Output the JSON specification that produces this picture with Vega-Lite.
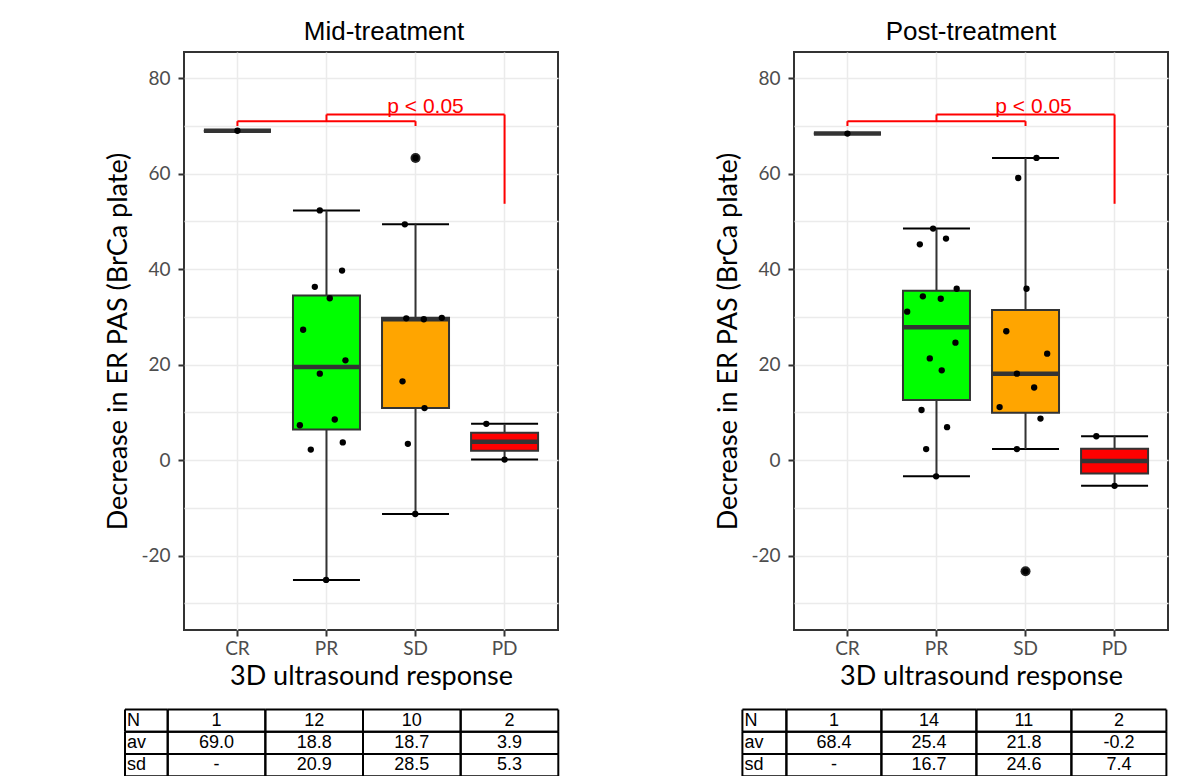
{
  "$schema": "https://vega.github.io/schema/vega-lite/v6.json",
  "background": "white",
  "padding": {"left": 103, "top": 18, "right": 0, "bottom": 0},
  "spacing": 152,
  "datasets": {
    "pts": [
      {"ph": "Mid", "resp": "CR", "v": 69.0, "jit": 0},
      {"ph": "Mid", "resp": "PR", "v": 52.3, "jit": -0.075},
      {"ph": "Mid", "resp": "PR", "v": 39.7, "jit": 0.175},
      {"ph": "Mid", "resp": "PR", "v": 36.3, "jit": -0.131},
      {"ph": "Mid", "resp": "PR", "v": 33.9, "jit": 0.037},
      {"ph": "Mid", "resp": "PR", "v": 27.3, "jit": -0.262},
      {"ph": "Mid", "resp": "PR", "v": 20.9, "jit": 0.213},
      {"ph": "Mid", "resp": "PR", "v": 18.1, "jit": -0.075},
      {"ph": "Mid", "resp": "PR", "v": 8.5, "jit": 0.093},
      {"ph": "Mid", "resp": "PR", "v": 7.3, "jit": -0.299},
      {"ph": "Mid", "resp": "PR", "v": 3.7, "jit": 0.183},
      {"ph": "Mid", "resp": "PR", "v": 2.2, "jit": -0.176},
      {"ph": "Mid", "resp": "PR", "v": -25.1, "jit": -0.004},
      {"ph": "Mid", "resp": "SD", "v": 63.3, "jit": 0},
      {"ph": "Mid", "resp": "SD", "v": 49.4, "jit": -0.12},
      {"ph": "Mid", "resp": "SD", "v": 29.8, "jit": 0.295},
      {"ph": "Mid", "resp": "SD", "v": 29.7, "jit": -0.104},
      {"ph": "Mid", "resp": "SD", "v": 29.5, "jit": 0.093},
      {"ph": "Mid", "resp": "SD", "v": 16.5, "jit": -0.146},
      {"ph": "Mid", "resp": "SD", "v": 10.9, "jit": 0.101},
      {"ph": "Mid", "resp": "SD", "v": 3.4, "jit": -0.086},
      {"ph": "Mid", "resp": "SD", "v": -11.3, "jit": -0.003},
      {"ph": "Mid", "resp": "PD", "v": 7.6, "jit": -0.205},
      {"ph": "Mid", "resp": "PD", "v": 0.1, "jit": 0},
      {"ph": "Post", "resp": "CR", "v": 68.4, "jit": 0},
      {"ph": "Post", "resp": "PR", "v": 48.5, "jit": -0.038},
      {"ph": "Post", "resp": "PR", "v": 45.2, "jit": -0.187},
      {"ph": "Post", "resp": "PR", "v": 46.4, "jit": 0.107},
      {"ph": "Post", "resp": "PR", "v": 35.9, "jit": 0.227},
      {"ph": "Post", "resp": "PR", "v": 34.3, "jit": -0.153},
      {"ph": "Post", "resp": "PR", "v": 33.8, "jit": 0.048},
      {"ph": "Post", "resp": "PR", "v": 31.1, "jit": -0.329},
      {"ph": "Post", "resp": "PR", "v": 24.6, "jit": 0.213},
      {"ph": "Post", "resp": "PR", "v": 21.3, "jit": -0.075},
      {"ph": "Post", "resp": "PR", "v": 18.8, "jit": 0.059},
      {"ph": "Post", "resp": "PR", "v": 10.5, "jit": -0.168},
      {"ph": "Post", "resp": "PR", "v": 6.9, "jit": 0.119},
      {"ph": "Post", "resp": "PR", "v": 2.3, "jit": -0.116},
      {"ph": "Post", "resp": "PR", "v": -3.4, "jit": -0.004},
      {"ph": "Post", "resp": "SD", "v": 63.3, "jit": 0.123},
      {"ph": "Post", "resp": "SD", "v": 59.1, "jit": -0.082},
      {"ph": "Post", "resp": "SD", "v": 35.9, "jit": 0.011},
      {"ph": "Post", "resp": "SD", "v": 27.0, "jit": -0.216},
      {"ph": "Post", "resp": "SD", "v": 22.3, "jit": 0.243},
      {"ph": "Post", "resp": "SD", "v": 18.1, "jit": -0.097},
      {"ph": "Post", "resp": "SD", "v": 15.2, "jit": 0.097},
      {"ph": "Post", "resp": "SD", "v": 11.1, "jit": -0.291},
      {"ph": "Post", "resp": "SD", "v": 8.7, "jit": 0.168},
      {"ph": "Post", "resp": "SD", "v": 2.3, "jit": -0.097},
      {"ph": "Post", "resp": "SD", "v": -23.3, "jit": 0},
      {"ph": "Post", "resp": "PD", "v": 5.0, "jit": -0.205},
      {"ph": "Post", "resp": "PD", "v": -5.4, "jit": 0}
    ],
    "br": [
      {"ph": "Mid", "x": "CR", "x2": "CR", "y": 71.0, "y2": 70.0},
      {"ph": "Mid", "x": "CR", "x2": "SD", "y": 71.0, "y2": 71.0},
      {"ph": "Mid", "x": "SD", "x2": "SD", "y": 71.0, "y2": 70.0},
      {"ph": "Mid", "x": "PR", "x2": "PR", "y": 71.0, "y2": 72.4},
      {"ph": "Mid", "x": "PR", "x2": "PD", "y": 72.4, "y2": 72.4},
      {"ph": "Mid", "x": "PD", "x2": "PD", "y": 72.4, "y2": 53.7},
      {"ph": "Post", "x": "CR", "x2": "CR", "y": 71.0, "y2": 70.0},
      {"ph": "Post", "x": "CR", "x2": "SD", "y": 71.0, "y2": 71.0},
      {"ph": "Post", "x": "SD", "x2": "SD", "y": 71.0, "y2": 70.0},
      {"ph": "Post", "x": "PR", "x2": "PR", "y": 71.0, "y2": 72.4},
      {"ph": "Post", "x": "PR", "x2": "PD", "y": 72.4, "y2": 72.4},
      {"ph": "Post", "x": "PD", "x2": "PD", "y": 72.4, "y2": 53.7}
    ],
    "ann": [
      {"ph": "Mid", "x": "SD", "y": 72.4, "t": "p < 0.05"},
      {"ph": "Post", "x": "SD", "y": 72.4, "t": "p < 0.05"}
    ],
    "tbl": [
      {"ph": "Mid", "row": "N", "col": "lab", "t": "N"},
      {"ph": "Mid", "row": "N", "col": "CR", "t": "1"},
      {"ph": "Mid", "row": "N", "col": "PR", "t": "12"},
      {"ph": "Mid", "row": "N", "col": "SD", "t": "10"},
      {"ph": "Mid", "row": "N", "col": "PD", "t": "2"},
      {"ph": "Mid", "row": "av", "col": "lab", "t": "av"},
      {"ph": "Mid", "row": "av", "col": "CR", "t": "69.0"},
      {"ph": "Mid", "row": "av", "col": "PR", "t": "18.8"},
      {"ph": "Mid", "row": "av", "col": "SD", "t": "18.7"},
      {"ph": "Mid", "row": "av", "col": "PD", "t": "3.9"},
      {"ph": "Mid", "row": "sd", "col": "lab", "t": "sd"},
      {"ph": "Mid", "row": "sd", "col": "CR", "t": "-"},
      {"ph": "Mid", "row": "sd", "col": "PR", "t": "20.9"},
      {"ph": "Mid", "row": "sd", "col": "SD", "t": "28.5"},
      {"ph": "Mid", "row": "sd", "col": "PD", "t": "5.3"},
      {"ph": "Post", "row": "N", "col": "lab", "t": "N"},
      {"ph": "Post", "row": "N", "col": "CR", "t": "1"},
      {"ph": "Post", "row": "N", "col": "PR", "t": "14"},
      {"ph": "Post", "row": "N", "col": "SD", "t": "11"},
      {"ph": "Post", "row": "N", "col": "PD", "t": "2"},
      {"ph": "Post", "row": "av", "col": "lab", "t": "av"},
      {"ph": "Post", "row": "av", "col": "CR", "t": "68.4"},
      {"ph": "Post", "row": "av", "col": "PR", "t": "25.4"},
      {"ph": "Post", "row": "av", "col": "SD", "t": "21.8"},
      {"ph": "Post", "row": "av", "col": "PD", "t": "-0.2"},
      {"ph": "Post", "row": "sd", "col": "lab", "t": "sd"},
      {"ph": "Post", "row": "sd", "col": "CR", "t": "-"},
      {"ph": "Post", "row": "sd", "col": "PR", "t": "16.7"},
      {"ph": "Post", "row": "sd", "col": "SD", "t": "24.6"},
      {"ph": "Post", "row": "sd", "col": "PD", "t": "7.4"}
    ]
  },
  "hconcat": [
    {
      "title": {"text": "Mid-treatment", "frame": "group", "anchor": "middle", "dx": 13, "baseline": "alphabetic", "offset": -14},
      "width": 374,
      "height": 578,
      "resolve": {"scale": {"x": "independent", "y": "independent"}},
      "layer": [
        {
          "layer": [
            {
              "data": {"name": "pts"},
              "transform": [
                {"filter": "datum.ph === 'Mid'"},
                {"joinaggregate": [{"op": "q1", "field": "v", "as": "q1"}, {"op": "q3", "field": "v", "as": "q3"}, {"op": "median", "field": "v", "as": "med"}], "groupby": ["resp"]},
                {"filter": "datum.v >= datum.q1 - 1.5 * (datum.q3 - datum.q1) && datum.v <= datum.q3 + 1.5 * (datum.q3 - datum.q1)"},
                {"aggregate": [{"op": "min", "field": "v", "as": "lo"}, {"op": "max", "field": "v", "as": "hi"}, {"op": "max", "field": "q1", "as": "bq1"}, {"op": "max", "field": "q3", "as": "bq3"}, {"op": "max", "field": "med", "as": "bmed"}], "groupby": ["resp"]}
              ],
              "layer": [
                {
                  "mark": {"type": "tick", "orient": "horizontal", "size": 67, "thickness": 2, "color": "black", "opacity": 1},
                  "encoding": {
                    "x": {"field": "resp", "type": "nominal", "title": "3D ultrasound response",
                      "scale": {"domain": ["CR", "PR", "SD", "PD"], "paddingInner": 0.25, "paddingOuter": 0.225},
                      "axis": {"grid": true, "bandPosition": 0.5, "labelAngle": 0, "labelPadding": 3, "titlePadding": 5}},
                    "y": {"field": "lo", "type": "quantitative", "title": "Decrease in ER PAS (BrCa plate)",
                      "scale": {"domain": [-35.6, 85.5], "nice": false, "zero": false},
                      "axis": {"values": [-30, -20, -10, 0, 10, 20, 30, 40, 50, 60, 70, 80],
                        "labelExpr": "datum.value % 20 === 0 ? '' + datum.value : ''",
                        "tickOpacity": {"condition": {"test": "datum.value % 20 !== 0", "value": 0}, "value": 1},
                        "labelPadding": 8, "titlePadding": 8}}
                  }
                },
                {
                  "mark": {"type": "tick", "orient": "horizontal", "size": 67, "thickness": 2, "color": "black", "opacity": 1},
                  "encoding": {
                    "x": {"field": "resp", "type": "nominal", "title": "3D ultrasound response"},
                    "y": {"field": "hi", "type": "quantitative", "title": "Decrease in ER PAS (BrCa plate)"}
                  }
                },
                {
                  "mark": {"type": "rule", "color": "#333333", "strokeWidth": 2},
                  "encoding": {
                    "x": {"field": "resp", "type": "nominal", "title": "3D ultrasound response"},
                    "y": {"field": "lo", "type": "quantitative", "title": "Decrease in ER PAS (BrCa plate)"},
                    "y2": {"field": "bq1"}
                  }
                },
                {
                  "mark": {"type": "rule", "color": "#333333", "strokeWidth": 2},
                  "encoding": {
                    "x": {"field": "resp", "type": "nominal", "title": "3D ultrasound response"},
                    "y": {"field": "bq3", "type": "quantitative", "title": "Decrease in ER PAS (BrCa plate)"},
                    "y2": {"field": "hi"}
                  }
                },
                {
                  "mark": {"type": "bar", "size": 67, "stroke": "#333333", "strokeWidth": 2, "opacity": 1},
                  "encoding": {
                    "x": {"field": "resp", "type": "nominal", "title": "3D ultrasound response"},
                    "y": {"field": "bq1", "type": "quantitative", "title": "Decrease in ER PAS (BrCa plate)"},
                    "y2": {"field": "bq3"},
                    "fill": {"field": "resp", "type": "nominal", "legend": null,
                      "scale": {"domain": ["CR", "PR", "SD", "PD"], "range": ["#FFFFFF", "#00FF00", "#FFA500", "#FF0000"]}}
                  }
                },
                {
                  "mark": {"type": "tick", "orient": "horizontal", "size": 67, "thickness": 4.5, "color": "#333333", "opacity": 1},
                  "encoding": {
                    "x": {"field": "resp", "type": "nominal", "title": "3D ultrasound response"},
                    "y": {"field": "bmed", "type": "quantitative", "title": "Decrease in ER PAS (BrCa plate)"}
                  }
                }
              ]
            },
            {
              "data": {"name": "pts"},
              "transform": [
                {"filter": "datum.ph === 'Mid'"},
                {"joinaggregate": [{"op": "q1", "field": "v", "as": "q1"}, {"op": "q3", "field": "v", "as": "q3"}], "groupby": ["resp"]},
                {"filter": "datum.v < datum.q1 - 1.5 * (datum.q3 - datum.q1) || datum.v > datum.q3 + 1.5 * (datum.q3 - datum.q1)"}
              ],
              "mark": {"type": "point", "filled": true, "size": 100, "color": "#222222", "opacity": 1},
              "encoding": {
                "x": {"field": "resp", "type": "nominal", "title": "3D ultrasound response"},
                "y": {"field": "v", "type": "quantitative", "title": "Decrease in ER PAS (BrCa plate)"}
              }
            },
            {
              "data": {"name": "pts"},
              "transform": [{"filter": "datum.ph === 'Mid'"}],
              "mark": {"type": "point", "filled": true, "size": 40, "color": "black", "opacity": 1},
              "encoding": {
                "x": {"field": "resp", "type": "nominal", "title": "3D ultrasound response"},
                "xOffset": {"field": "jit", "type": "quantitative", "scale": {"domain": [-0.375, 0.375]}},
                "y": {"field": "v", "type": "quantitative", "title": "Decrease in ER PAS (BrCa plate)"}
              }
            },
            {
              "data": {"name": "br"},
              "transform": [{"filter": "datum.ph === 'Mid'"}],
              "mark": {"type": "rule", "color": "#FF0000", "strokeWidth": 2},
              "encoding": {
                "x": {"field": "x", "type": "nominal", "title": "3D ultrasound response"},
                "x2": {"field": "x2"},
                "y": {"field": "y", "type": "quantitative", "title": "Decrease in ER PAS (BrCa plate)"},
                "y2": {"field": "y2"}
              }
            },
            {
              "data": {"name": "ann"},
              "transform": [{"filter": "datum.ph === 'Mid'"}],
              "mark": {"type": "text", "color": "#FF0000", "fontSize": 21, "dx": 10, "dy": -2, "baseline": "alphabetic", "align": "center"},
              "encoding": {
                "x": {"field": "x", "type": "nominal", "title": "3D ultrasound response"},
                "y": {"field": "y", "type": "quantitative", "title": "Decrease in ER PAS (BrCa plate)"},
                "text": {"field": "t"}
              }
            }
          ]
        },
        {
          "data": {"name": "tbl"},
          "transform": [{"filter": "datum.ph === 'Mid' && datum.col === 'lab'"}],
          "encoding": {
            "x": {"field": "col", "type": "nominal", "axis": null,
              "scale": {"type": "band", "domain": ["lab"], "range": [-59, -16.3], "paddingInner": 0, "paddingOuter": 0}},
            "y": {"field": "row", "type": "nominal", "axis": null,
              "scale": {"type": "band", "domain": ["N", "av", "sd"], "range": [657.6, 724.3], "paddingInner": 0, "paddingOuter": 0}}
          },
          "layer": [
            {"mark": {"type": "tick", "orient": "horizontal", "size": 42.7, "thickness": 2, "color": "black", "opacity": 1},
             "encoding": {"y": {"field": "row", "type": "nominal", "axis": null, "bandPosition": 0}}},
            {"mark": {"type": "tick", "orient": "horizontal", "size": 42.7, "thickness": 2, "color": "black", "opacity": 1},
             "encoding": {"y": {"field": "row", "type": "nominal", "axis": null, "bandPosition": 1}}},
            {"mark": {"type": "tick", "orient": "vertical", "size": 22.2, "thickness": 2, "color": "black", "opacity": 1},
             "encoding": {"x": {"field": "col", "type": "nominal", "axis": null, "bandPosition": 0}}},
            {"mark": {"type": "tick", "orient": "vertical", "size": 22.2, "thickness": 2, "color": "black", "opacity": 1},
             "encoding": {"x": {"field": "col", "type": "nominal", "axis": null, "bandPosition": 1}}},
            {"mark": {"type": "text", "align": "left", "dx": 2, "fontSize": 18, "baseline": "middle", "color": "black"},
             "encoding": {"x": {"field": "col", "type": "nominal", "axis": null, "bandPosition": 0},
               "text": {"field": "t"}}}
          ]
        },
        {
          "data": {"name": "tbl"},
          "transform": [{"filter": "datum.ph === 'Mid' && datum.col !== 'lab'"}],
          "encoding": {
            "x": {"field": "col", "type": "nominal", "axis": null,
              "scale": {"type": "band", "domain": ["CR", "PR", "SD", "PD"], "range": [-16.3, 374.3], "paddingInner": 0, "paddingOuter": 0}},
            "y": {"field": "row", "type": "nominal", "axis": null,
              "scale": {"type": "band", "domain": ["N", "av", "sd"], "range": [657.6, 724.3], "paddingInner": 0, "paddingOuter": 0}}
          },
          "layer": [
            {"mark": {"type": "tick", "orient": "horizontal", "size": 97.65, "thickness": 2, "color": "black", "opacity": 1},
             "encoding": {"y": {"field": "row", "type": "nominal", "axis": null, "bandPosition": 0}}},
            {"mark": {"type": "tick", "orient": "horizontal", "size": 97.65, "thickness": 2, "color": "black", "opacity": 1},
             "encoding": {"y": {"field": "row", "type": "nominal", "axis": null, "bandPosition": 1}}},
            {"mark": {"type": "tick", "orient": "vertical", "size": 22.2, "thickness": 2, "color": "black", "opacity": 1},
             "encoding": {"x": {"field": "col", "type": "nominal", "axis": null, "bandPosition": 0}}},
            {"mark": {"type": "tick", "orient": "vertical", "size": 22.2, "thickness": 2, "color": "black", "opacity": 1},
             "encoding": {"x": {"field": "col", "type": "nominal", "axis": null, "bandPosition": 1}}},
            {"mark": {"type": "text", "align": "center", "fontSize": 18, "baseline": "middle", "color": "black"},
             "encoding": {"text": {"field": "t"}}}
          ]
        }
      ]
    },
    {
      "title": {"text": "Post-treatment", "frame": "group", "anchor": "middle", "dx": -10, "baseline": "alphabetic", "offset": -14},
      "width": 374,
      "height": 578,
      "resolve": {"scale": {"x": "independent", "y": "independent"}},
      "layer": [
        {
          "layer": [
            {
              "data": {"name": "pts"},
              "transform": [
                {"filter": "datum.ph === 'Post'"},
                {"joinaggregate": [{"op": "q1", "field": "v", "as": "q1"}, {"op": "q3", "field": "v", "as": "q3"}, {"op": "median", "field": "v", "as": "med"}], "groupby": ["resp"]},
                {"filter": "datum.v >= datum.q1 - 1.5 * (datum.q3 - datum.q1) && datum.v <= datum.q3 + 1.5 * (datum.q3 - datum.q1)"},
                {"aggregate": [{"op": "min", "field": "v", "as": "lo"}, {"op": "max", "field": "v", "as": "hi"}, {"op": "max", "field": "q1", "as": "bq1"}, {"op": "max", "field": "q3", "as": "bq3"}, {"op": "max", "field": "med", "as": "bmed"}], "groupby": ["resp"]}
              ],
              "layer": [
                {
                  "mark": {"type": "tick", "orient": "horizontal", "size": 67, "thickness": 2, "color": "black", "opacity": 1},
                  "encoding": {
                    "x": {"field": "resp", "type": "nominal", "title": "3D ultrasound response",
                      "scale": {"domain": ["CR", "PR", "SD", "PD"], "paddingInner": 0.25, "paddingOuter": 0.225},
                      "axis": {"grid": true, "bandPosition": 0.5, "labelAngle": 0, "labelPadding": 3, "titlePadding": 5}},
                    "y": {"field": "lo", "type": "quantitative", "title": "Decrease in ER PAS (BrCa plate)",
                      "scale": {"domain": [-35.6, 85.5], "nice": false, "zero": false},
                      "axis": {"values": [-30, -20, -10, 0, 10, 20, 30, 40, 50, 60, 70, 80],
                        "labelExpr": "datum.value % 20 === 0 ? '' + datum.value : ''",
                        "tickOpacity": {"condition": {"test": "datum.value % 20 !== 0", "value": 0}, "value": 1},
                        "labelPadding": 8, "titlePadding": 8}}
                  }
                },
                {
                  "mark": {"type": "tick", "orient": "horizontal", "size": 67, "thickness": 2, "color": "black", "opacity": 1},
                  "encoding": {
                    "x": {"field": "resp", "type": "nominal", "title": "3D ultrasound response"},
                    "y": {"field": "hi", "type": "quantitative", "title": "Decrease in ER PAS (BrCa plate)"}
                  }
                },
                {
                  "mark": {"type": "rule", "color": "#333333", "strokeWidth": 2},
                  "encoding": {
                    "x": {"field": "resp", "type": "nominal", "title": "3D ultrasound response"},
                    "y": {"field": "lo", "type": "quantitative", "title": "Decrease in ER PAS (BrCa plate)"},
                    "y2": {"field": "bq1"}
                  }
                },
                {
                  "mark": {"type": "rule", "color": "#333333", "strokeWidth": 2},
                  "encoding": {
                    "x": {"field": "resp", "type": "nominal", "title": "3D ultrasound response"},
                    "y": {"field": "bq3", "type": "quantitative", "title": "Decrease in ER PAS (BrCa plate)"},
                    "y2": {"field": "hi"}
                  }
                },
                {
                  "mark": {"type": "bar", "size": 67, "stroke": "#333333", "strokeWidth": 2, "opacity": 1},
                  "encoding": {
                    "x": {"field": "resp", "type": "nominal", "title": "3D ultrasound response"},
                    "y": {"field": "bq1", "type": "quantitative", "title": "Decrease in ER PAS (BrCa plate)"},
                    "y2": {"field": "bq3"},
                    "fill": {"field": "resp", "type": "nominal", "legend": null,
                      "scale": {"domain": ["CR", "PR", "SD", "PD"], "range": ["#FFFFFF", "#00FF00", "#FFA500", "#FF0000"]}}
                  }
                },
                {
                  "mark": {"type": "tick", "orient": "horizontal", "size": 67, "thickness": 4.5, "color": "#333333", "opacity": 1},
                  "encoding": {
                    "x": {"field": "resp", "type": "nominal", "title": "3D ultrasound response"},
                    "y": {"field": "bmed", "type": "quantitative", "title": "Decrease in ER PAS (BrCa plate)"}
                  }
                }
              ]
            },
            {
              "data": {"name": "pts"},
              "transform": [
                {"filter": "datum.ph === 'Post'"},
                {"joinaggregate": [{"op": "q1", "field": "v", "as": "q1"}, {"op": "q3", "field": "v", "as": "q3"}], "groupby": ["resp"]},
                {"filter": "datum.v < datum.q1 - 1.5 * (datum.q3 - datum.q1) || datum.v > datum.q3 + 1.5 * (datum.q3 - datum.q1)"}
              ],
              "mark": {"type": "point", "filled": true, "size": 100, "color": "#222222", "opacity": 1},
              "encoding": {
                "x": {"field": "resp", "type": "nominal", "title": "3D ultrasound response"},
                "y": {"field": "v", "type": "quantitative", "title": "Decrease in ER PAS (BrCa plate)"}
              }
            },
            {
              "data": {"name": "pts"},
              "transform": [{"filter": "datum.ph === 'Post'"}],
              "mark": {"type": "point", "filled": true, "size": 40, "color": "black", "opacity": 1},
              "encoding": {
                "x": {"field": "resp", "type": "nominal", "title": "3D ultrasound response"},
                "xOffset": {"field": "jit", "type": "quantitative", "scale": {"domain": [-0.375, 0.375]}},
                "y": {"field": "v", "type": "quantitative", "title": "Decrease in ER PAS (BrCa plate)"}
              }
            },
            {
              "data": {"name": "br"},
              "transform": [{"filter": "datum.ph === 'Post'"}],
              "mark": {"type": "rule", "color": "#FF0000", "strokeWidth": 2},
              "encoding": {
                "x": {"field": "x", "type": "nominal", "title": "3D ultrasound response"},
                "x2": {"field": "x2"},
                "y": {"field": "y", "type": "quantitative", "title": "Decrease in ER PAS (BrCa plate)"},
                "y2": {"field": "y2"}
              }
            },
            {
              "data": {"name": "ann"},
              "transform": [{"filter": "datum.ph === 'Post'"}],
              "mark": {"type": "text", "color": "#FF0000", "fontSize": 21, "dx": 8, "dy": -2, "baseline": "alphabetic", "align": "center"},
              "encoding": {
                "x": {"field": "x", "type": "nominal", "title": "3D ultrasound response"},
                "y": {"field": "y", "type": "quantitative", "title": "Decrease in ER PAS (BrCa plate)"},
                "text": {"field": "t"}
              }
            }
          ]
        },
        {
          "data": {"name": "tbl"},
          "transform": [{"filter": "datum.ph === 'Post' && datum.col === 'lab'"}],
          "encoding": {
            "x": {"field": "col", "type": "nominal", "axis": null,
              "scale": {"type": "band", "domain": ["lab"], "range": [-51.6, -7.6], "paddingInner": 0, "paddingOuter": 0}},
            "y": {"field": "row", "type": "nominal", "axis": null,
              "scale": {"type": "band", "domain": ["N", "av", "sd"], "range": [657.6, 724.3], "paddingInner": 0, "paddingOuter": 0}}
          },
          "layer": [
            {"mark": {"type": "tick", "orient": "horizontal", "size": 44, "thickness": 2, "color": "black", "opacity": 1},
             "encoding": {"y": {"field": "row", "type": "nominal", "axis": null, "bandPosition": 0}}},
            {"mark": {"type": "tick", "orient": "horizontal", "size": 44, "thickness": 2, "color": "black", "opacity": 1},
             "encoding": {"y": {"field": "row", "type": "nominal", "axis": null, "bandPosition": 1}}},
            {"mark": {"type": "tick", "orient": "vertical", "size": 22.2, "thickness": 2, "color": "black", "opacity": 1},
             "encoding": {"x": {"field": "col", "type": "nominal", "axis": null, "bandPosition": 0}}},
            {"mark": {"type": "tick", "orient": "vertical", "size": 22.2, "thickness": 2, "color": "black", "opacity": 1},
             "encoding": {"x": {"field": "col", "type": "nominal", "axis": null, "bandPosition": 1}}},
            {"mark": {"type": "text", "align": "left", "dx": 2, "fontSize": 18, "baseline": "middle", "color": "black"},
             "encoding": {"x": {"field": "col", "type": "nominal", "axis": null, "bandPosition": 0},
               "text": {"field": "t"}}}
          ]
        },
        {
          "data": {"name": "tbl"},
          "transform": [{"filter": "datum.ph === 'Post' && datum.col !== 'lab'"}],
          "encoding": {
            "x": {"field": "col", "type": "nominal", "axis": null,
              "scale": {"type": "band", "domain": ["CR", "PR", "SD", "PD"], "range": [-7.6, 372.4], "paddingInner": 0, "paddingOuter": 0}},
            "y": {"field": "row", "type": "nominal", "axis": null,
              "scale": {"type": "band", "domain": ["N", "av", "sd"], "range": [657.6, 724.3], "paddingInner": 0, "paddingOuter": 0}}
          },
          "layer": [
            {"mark": {"type": "tick", "orient": "horizontal", "size": 95, "thickness": 2, "color": "black", "opacity": 1},
             "encoding": {"y": {"field": "row", "type": "nominal", "axis": null, "bandPosition": 0}}},
            {"mark": {"type": "tick", "orient": "horizontal", "size": 95, "thickness": 2, "color": "black", "opacity": 1},
             "encoding": {"y": {"field": "row", "type": "nominal", "axis": null, "bandPosition": 1}}},
            {"mark": {"type": "tick", "orient": "vertical", "size": 22.2, "thickness": 2, "color": "black", "opacity": 1},
             "encoding": {"x": {"field": "col", "type": "nominal", "axis": null, "bandPosition": 0}}},
            {"mark": {"type": "tick", "orient": "vertical", "size": 22.2, "thickness": 2, "color": "black", "opacity": 1},
             "encoding": {"x": {"field": "col", "type": "nominal", "axis": null, "bandPosition": 1}}},
            {"mark": {"type": "text", "align": "center", "fontSize": 18, "baseline": "middle", "color": "black"},
             "encoding": {"text": {"field": "t"}}}
          ]
        }
      ]
    }
  ],
  "config": {
    "font": "Liberation Sans",
    "view": {"stroke": "#333333", "strokeWidth": 2},
    "title": {"font": "Liberation Sans", "fontSize": 26, "fontWeight": "normal", "color": "black"},
    "axis": {"domain": false, "tickColor": "#333333", "tickWidth": 2, "tickSize": 6,
      "labelFont": "Lato", "labelFontSize": 19, "labelColor": "#4D4D4D", "labelPadding": 2,
      "titleFont": "Lato", "titleFontSize": 27, "titleFontWeight": "normal", "titleColor": "black",
      "gridColor": "#EBEBEB", "gridWidth": 1.5}
  }
}
